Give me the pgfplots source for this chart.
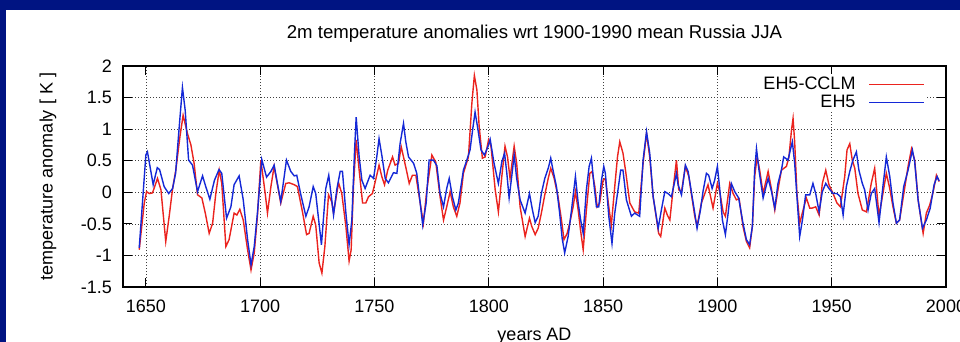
\documentclass[border=0pt]{standalone}
\usepackage{pgfplots}
\pgfplotsset{compat=1.18}
\usepackage{fontspec}
\setmainfont{Liberation Sans}
\definecolor{slide}{RGB}{0,20,130}
\definecolor{cred}{RGB}{235,35,30}
\definecolor{cblue}{RGB}{20,40,215}
\newcommand\f{\fontsize{18bp}{20bp}\selectfont}
\newcommand\ft{\fontsize{18.6bp}{20bp}\selectfont}
\begin{document}
\begin{tikzpicture}
\useasboundingbox (0bp,0bp) rectangle (960bp,342bp);
\fill[slide] (0bp,0bp) rectangle (960bp,342bp);
\fill[white] (6bp,0bp) rectangle (960bp,332bp);
\begin{axis}[
  at={(123bp,55bp)}, anchor=south west,
  scale only axis, width=823bp, height=221bp,
  xmin=1640, xmax=2000, ymin=-1.5, ymax=2,
  xtick={1650,1700,1750,1800,1850,1900,1950,2000},
  xticklabels={1650,1700,1750,1800,1850,1900,1950,2000},
  ytick={-1.5,-1,-0.5,0,0.5,1,1.5,2},
  yticklabels={-1.5,-1,-0.5,0,0.5,1,1.5,2},
  tick align=inside, major tick length=9bp,
  tick style={black, line width=1bp},
  axis line style={black, line width=1.5bp},
  grid=major,
  major grid style={black!75, line width=0.7bp, dash pattern=on 1bp off 2bp},
  tick label style={font=\f},
  xticklabel style={anchor=north, inner sep=0pt, yshift=-13bp},
  yticklabel style={anchor=east, inner sep=0pt, xshift=-11bp},
  title={2m temperature anomalies wrt 1900-1990 mean Russia JJA},
  title style={font=\ft, at={(axis description cs:0.5,1.0995)}, anchor=base},
  xlabel={years AD},
  xlabel style={font=\f, at={(axis description cs:0.5,-0.240)}, anchor=base},
  ylabel={temperature anomaly [ K ]},
  ylabel style={font=\f, at={(axis description cs:-0.0911,0.5)}, anchor=center},
  legend style={at={(axis description cs:0.9757,0.963)}, anchor=north east,
    draw=none, fill=white, inner sep=1bp, row sep=0bp, font=\f,
    /tikz/every odd column/.append style={column sep=11bp}},
  legend cell align=right, legend plot pos=right,
  legend image code/.code={\draw[#1, line width=1.3bp] (0bp,0bp) -- (55bp,0bp);},
]
\addplot[cred, line width=1.4bp] table {
1647.1 -0.91
1649.3 -0.17
1650.3 0.01
1651.5 -0.02
1652.9 -0.01
1655.1 0.22
1656.6 0.04
1658.7 -0.78
1660.2 -0.38
1661.7 0.06
1663.1 0.35
1664.9 0.88
1666.3 1.22
1668.2 0.93
1669.7 0.75
1671.1 0.46
1672.6 -0.04
1674.5 -0.09
1676.0 -0.33
1677.7 -0.65
1679.2 -0.49
1680.6 -0.02
1682.1 0.35
1683.2 0.14
1685.0 -0.86
1686.4 -0.75
1688.6 -0.33
1689.8 -0.36
1691.1 -0.27
1692.6 -0.44
1694.5 -0.91
1696.0 -1.23
1697.4 -0.96
1698.8 -0.38
1700.3 0.51
1702.2 -0.02
1703.2 -0.33
1704.7 0.09
1706.1 0.41
1709.0 -0.17
1711.2 0.14
1712.7 0.15
1714.9 0.12
1716.3 0.09
1718.5 -0.31
1720.3 -0.67
1721.4 -0.65
1723.2 -0.38
1724.3 -0.52
1725.8 -1.12
1727.0 -1.28
1728.3 -0.86
1729.9 -0.04
1731.3 -0.15
1732.1 -0.33
1733.5 -0.02
1734.3 0.15
1735.7 -0.02
1737.5 -0.54
1738.9 -1.09
1739.8 -0.91
1740.8 0.09
1742.0 0.83
1743.3 0.35
1744.8 -0.17
1746.2 -0.17
1747.4 -0.07
1749.1 -0.02
1751.0 0.27
1752.0 0.43
1753.2 0.25
1754.4 0.12
1755.8 0.35
1757.9 0.56
1759.0 0.43
1760.5 0.46
1761.7 0.72
1762.7 0.56
1764.1 0.33
1765.2 0.14
1766.6 0.27
1768.1 0.27
1770.0 -0.17
1771.4 -0.49
1772.9 0.04
1775.1 0.59
1776.8 0.48
1778.7 -0.07
1780.2 -0.44
1781.6 -0.23
1783.1 0.01
1784.5 -0.23
1786.0 -0.38
1787.4 -0.17
1788.9 0.30
1791.1 0.56
1792.6 1.41
1793.7 1.85
1794.8 1.62
1795.8 1.04
1797.2 0.54
1798.4 0.56
1799.9 0.83
1801.0 0.72
1802.8 0.04
1804.2 -0.31
1805.7 0.25
1807.1 0.73
1808.2 0.56
1809.3 0.22
1811.1 0.73
1812.2 0.46
1813.7 -0.23
1815.9 -0.70
1817.8 -0.41
1818.8 -0.54
1820.3 -0.67
1821.6 -0.57
1823.0 -0.33
1824.5 -0.04
1826.0 0.22
1827.1 0.38
1828.6 0.22
1830.3 -0.07
1831.8 -0.44
1832.9 -0.75
1834.3 -0.65
1835.4 -0.49
1836.9 -0.23
1837.9 0.01
1839.1 -0.28
1840.1 -0.59
1841.3 -0.91
1842.7 -0.28
1844.2 0.30
1845.2 0.33
1846.4 0.09
1847.4 -0.23
1848.5 -0.17
1850.0 0.19
1851.0 0.22
1852.5 -0.23
1853.6 -0.52
1855.1 0.09
1856.3 0.56
1857.3 0.80
1858.7 0.62
1859.8 0.35
1861.7 -0.17
1863.8 -0.31
1865.6 -0.33
1867.5 0.46
1869.0 0.93
1870.4 0.56
1871.9 -0.07
1874.3 -0.65
1875.2 -0.70
1877.0 -0.25
1878.1 -0.36
1879.2 -0.44
1880.6 0.04
1882.1 0.51
1883.1 0.04
1884.3 0.01
1886.0 0.41
1887.5 0.25
1888.6 -0.02
1890.1 -0.38
1891.1 -0.54
1893.0 -0.17
1894.5 -0.02
1895.9 0.12
1898.1 -0.25
1900.0 0.14
1901.0 0.01
1902.5 -0.31
1903.5 -0.38
1905.4 0.14
1906.9 -0.02
1908.3 -0.12
1909.5 -0.10
1911.2 -0.54
1912.7 -0.78
1914.1 -0.88
1915.3 -0.54
1916.3 0.25
1917.4 0.56
1918.5 0.35
1920.0 -0.02
1922.2 0.33
1923.7 0.04
1925.1 -0.28
1926.5 0.04
1928.0 0.35
1930.2 0.41
1931.3 0.56
1932.4 0.98
1933.1 1.17
1933.8 0.80
1934.8 -0.02
1936.0 -0.49
1937.5 -0.28
1938.9 -0.09
1940.4 -0.25
1941.5 -0.25
1943.0 -0.23
1944.5 -0.36
1945.9 0.14
1947.4 0.35
1948.8 0.12
1950.6 -0.02
1952.3 -0.17
1953.8 -0.23
1955.7 0.25
1956.7 0.67
1957.9 0.77
1959.0 0.51
1960.1 0.38
1961.5 -0.02
1963.4 -0.28
1965.2 -0.31
1967.3 0.14
1968.8 0.38
1970.7 -0.38
1972.4 -0.02
1973.9 0.30
1975.4 0.06
1976.8 -0.23
1978.3 -0.49
1979.7 -0.44
1981.9 0.06
1983.4 0.41
1984.9 0.69
1986.3 0.51
1987.8 -0.12
1990.0 -0.65
1991.4 -0.33
1992.9 -0.20
1994.4 0.01
1995.8 0.27
1997.0 0.17
};
\addlegendentry{EH5-CCLM}
\addplot[cblue, line width=1.4bp] table {
1647.1 -0.88
1650.0 0.59
1650.7 0.64
1653.2 0.12
1655.0 0.39
1656.0 0.36
1658.0 0.09
1660.0 -0.02
1661.7 0.06
1663.0 0.30
1664.6 1.04
1666.0 1.66
1667.2 1.30
1668.7 0.51
1670.4 0.43
1672.6 0.01
1674.8 0.26
1676.2 0.09
1678.0 -0.11
1680.0 0.19
1682.0 0.36
1683.2 0.30
1685.3 -0.41
1687.2 -0.23
1688.6 0.12
1690.8 0.26
1692.6 -0.12
1694.5 -0.75
1696.0 -1.15
1697.4 -0.86
1698.8 -0.33
1700.7 0.52
1702.8 0.24
1704.7 0.33
1706.1 0.43
1709.0 -0.15
1711.5 0.51
1713.4 0.33
1714.9 0.26
1716.0 0.27
1717.8 -0.04
1720.0 -0.38
1721.4 -0.23
1723.2 0.09
1724.3 -0.02
1726.8 -0.83
1728.7 0.06
1730.0 0.27
1731.3 -0.12
1732.1 -0.36
1733.5 0.04
1735.0 0.33
1736.0 0.33
1737.5 -0.33
1738.9 -0.83
1740.1 -0.44
1741.3 0.67
1742.0 1.19
1743.3 0.56
1744.5 0.19
1745.9 0.06
1748.1 0.27
1749.6 0.22
1751.0 0.56
1752.0 0.85
1753.2 0.59
1754.7 0.22
1756.1 0.15
1758.3 0.31
1759.8 0.30
1761.2 0.77
1762.7 1.09
1763.7 0.80
1764.9 0.56
1767.1 0.46
1768.5 0.30
1770.0 -0.17
1771.1 -0.52
1772.6 -0.17
1773.9 0.51
1775.8 0.51
1777.3 0.42
1778.7 -0.02
1780.2 -0.23
1781.6 0.06
1782.7 0.22
1784.1 -0.07
1785.6 -0.28
1786.7 -0.17
1788.9 0.35
1790.4 0.51
1791.8 0.67
1792.9 0.98
1794.0 1.27
1795.2 1.01
1796.6 0.67
1798.1 0.59
1799.6 0.72
1800.6 0.84
1802.3 0.46
1804.2 0.14
1805.7 0.48
1806.9 0.62
1807.9 0.30
1808.9 -0.09
1810.1 0.27
1811.1 0.59
1812.2 0.22
1813.7 -0.12
1815.9 -0.33
1817.8 -0.02
1819.1 -0.28
1820.3 -0.48
1821.6 -0.38
1823.0 -0.02
1824.5 0.22
1826.0 0.38
1827.1 0.54
1828.1 0.35
1829.6 0.09
1831.0 -0.33
1832.1 -0.73
1833.2 -0.96
1834.7 -0.70
1836.2 -0.28
1837.9 0.25
1839.1 -0.17
1840.2 -0.44
1841.3 -0.65
1842.7 0.04
1843.9 0.41
1844.9 0.54
1846.1 0.09
1847.1 -0.23
1848.1 -0.23
1849.3 0.19
1850.3 0.41
1851.0 0.30
1852.5 -0.38
1853.9 -0.81
1855.1 -0.33
1856.6 0.06
1857.7 0.35
1858.7 0.35
1860.2 -0.12
1862.4 -0.38
1863.8 -0.33
1866.0 -0.38
1867.5 0.51
1869.0 0.96
1870.4 0.62
1871.9 -0.07
1874.1 -0.57
1875.5 -0.28
1877.0 0.01
1878.4 -0.02
1879.9 -0.07
1882.1 0.30
1882.8 0.12
1884.3 -0.04
1886.0 0.43
1887.2 0.33
1888.6 0.01
1890.1 -0.33
1891.1 -0.57
1892.6 -0.28
1893.7 0.01
1895.2 0.30
1896.2 0.27
1897.7 0.06
1898.8 0.19
1900.0 0.41
1901.0 0.06
1902.2 -0.44
1903.5 -0.67
1904.7 -0.33
1906.1 0.14
1907.6 0.01
1909.3 -0.09
1911.2 -0.49
1912.7 -0.75
1914.1 -0.83
1915.3 -0.54
1916.3 0.35
1917.1 0.69
1918.2 0.35
1920.0 -0.09
1922.2 0.22
1923.7 0.01
1925.1 -0.25
1926.5 0.14
1928.0 0.35
1929.0 0.56
1930.9 0.51
1931.9 0.67
1932.8 0.80
1933.8 0.46
1934.8 -0.07
1936.0 -0.70
1937.2 -0.44
1938.6 -0.04
1940.4 -0.04
1941.8 0.14
1943.0 -0.02
1944.5 -0.31
1945.9 0.01
1947.4 0.14
1948.8 0.06
1950.6 -0.02
1952.3 -0.02
1953.8 -0.07
1955.0 -0.36
1956.4 0.09
1957.9 0.33
1959.3 0.51
1960.8 0.64
1961.9 0.35
1963.4 0.14
1964.4 0.04
1965.9 -0.28
1967.3 -0.02
1968.8 0.06
1970.7 -0.48
1972.4 0.09
1973.9 0.56
1975.4 0.25
1976.8 -0.17
1978.3 -0.49
1979.7 -0.44
1981.5 0.09
1983.4 0.35
1985.3 0.67
1986.3 0.48
1987.8 -0.12
1989.7 -0.57
1991.4 -0.44
1993.1 -0.25
1994.8 0.12
1996.1 0.25
1997.0 0.18
};
\addlegendentry{EH5}
\end{axis}
\end{tikzpicture}
\end{document}
